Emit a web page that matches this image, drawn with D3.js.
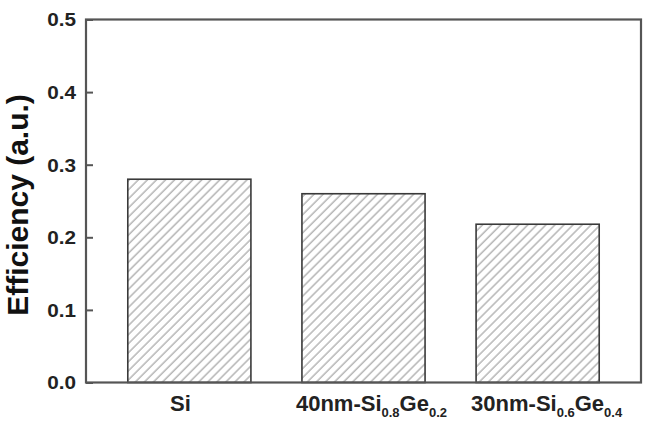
<!DOCTYPE html>
<html><head><meta charset="utf-8">
<script src="https://cdn.jsdelivr.net/npm/d3@7"></script>
<style>
html,body{margin:0;padding:0;background:#fff;}
svg{display:block;font-family:"Liberation Sans",Arial,sans-serif;}
</style></head>
<body>
<svg id="chart" width="648" height="423"></svg>
<script>
// Data
const categories = ["Si", "40nm-Si0.8Ge0.2", "30nm-Si0.6Ge0.4"];
const labelMain = ["Si", "40nm-Si", "30nm-Si"];
const labelSub1 = ["", "0.8", "0.6"];
const labelMid = ["", "Ge", "Ge"];
const labelSub2 = ["", "0.2", "0.4"];
const values = [0.28, 0.26, 0.218];
const yTicks = [0.0, 0.1, 0.2, 0.3, 0.4, 0.5];

const svg = d3.select("#chart");
const L = 86, R = 641, T = 19.5, B = 382.5;
const labelDx = [-9, 8, 9];

const x = d3.scaleBand().domain(categories).range([L, R]).paddingInner(0.293).paddingOuter(0.24);
const y = d3.scaleLinear().domain([0, 0.5]).range([B, T]);

const defs = svg.append("defs");
const pat = defs.append("pattern").attr("id", "hatch").attr("patternUnits", "userSpaceOnUse")
  .attr("width", 6.4).attr("height", 6.4).attr("patternTransform", "rotate(45)");
pat.append("rect").attr("width", 6.4).attr("height", 6.4).attr("fill", "#fff");
pat.append("line").attr("x1", 1).attr("y1", 0).attr("x2", 1).attr("y2", 6.4)
  .attr("stroke", "#9a9a9a").attr("stroke-width", 1.1);

// bars
svg.append("g").selectAll("rect").data(values).join("rect")
  .attr("x", (d, i) => x(categories[i]))
  .attr("y", d => y(d))
  .attr("width", x.bandwidth())
  .attr("height", d => y(0) - y(d))
  .attr("fill", "url(#hatch)")
  .attr("stroke", "#3a3a3a").attr("stroke-width", 1.6);

// frame
svg.append("rect").attr("x", L).attr("y", T).attr("width", R - L).attr("height", B - T)
  .attr("fill", "none").attr("stroke", "#555").attr("stroke-width", 2.2);

// y axis (ticks inward)
const yAxis = d3.axisLeft(y).tickValues(yTicks).tickFormat(d3.format(".1f")).tickSizeInner(-7).tickSizeOuter(0).tickPadding(0);
const gy = svg.append("g").attr("transform", `translate(${L},0)`).call(yAxis);
gy.select(".domain").remove();
gy.selectAll(".tick line").attr("stroke", "#555").attr("stroke-width", 2);
gy.selectAll(".tick text").attr("x", null)
  .attr("transform", "translate(-10,0) scale(1.15,1)")
  .attr("font-size", 18).attr("font-weight", "bold").attr("fill", "#222")
  .attr("font-family", "Liberation Sans, Arial, sans-serif").attr("dy", "0.36em");

// x labels
const xl = svg.append("g").selectAll("text").data(categories).join("text")
  .attr("x", (d, i) => x(d) + x.bandwidth() / 2 + labelDx[i])
  .attr("y", 411)
  .attr("text-anchor", "middle")
  .attr("font-size", 22).attr("font-weight", "bold").attr("fill", "#222");
xl.each(function(d, i) {
  const t = d3.select(this);
  t.append("tspan").text(labelMain[i]);
  if (labelSub1[i]) {
    t.append("tspan").attr("font-size", 13).attr("dy", 6).text(labelSub1[i]);
    t.append("tspan").attr("dy", -6).text(labelMid[i]);
    t.append("tspan").attr("font-size", 13).attr("dy", 6).text(labelSub2[i]);
  }
});

// y label
svg.append("text").attr("transform", `translate(28,205) rotate(-90)`)
  .attr("text-anchor", "middle").attr("font-size", 30).attr("font-weight", "bold").attr("fill", "#111")
  .text("Efficiency (a.u.)");
</script>
</body></html>
